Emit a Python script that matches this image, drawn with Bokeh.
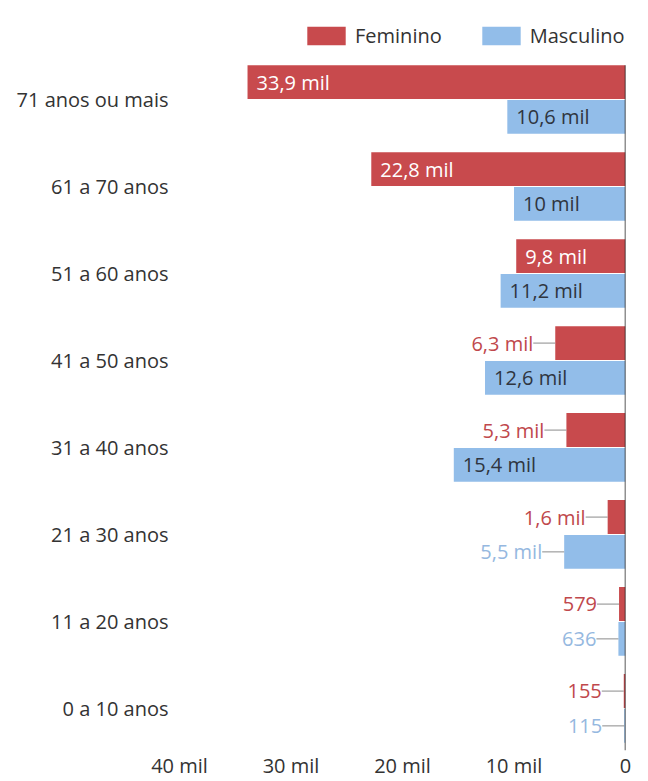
from bokeh.plotting import figure
from bokeh.models import (ColumnDataSource, Range1d, FixedTicker, Legend, LegendItem)
from bokeh.embed import file_html
from bokeh.resources import INLINE

# ---- data ----
categories = ["71 anos ou mais", "61 a 70 anos", "51 a 60 anos", "41 a 50 anos",
              "31 a 40 anos", "21 a 30 anos", "11 a 20 anos", "0 a 10 anos"]
feminino = [33900, 22800, 9800, 6300, 5300, 1600, 579, 155]
masculino = [10600, 10000, 11200, 12600, 15400, 5500, 636, 115]
fem_labels = ["33,9 mil", "22,8 mil", "9,8 mil", "6,3 mil", "5,3 mil", "1,6 mil", "579", "155"]
masc_labels = ["10,6 mil", "10 mil", "11,2 mil", "12,6 mil", "15,4 mil", "5,5 mil", "636", "115"]
x_ticks = [0, 10000, 20000, 30000, 40000]
x_tick_labels = ["0", "10 mil", "20 mil", "30 mil", "40 mil"]

RED = "#c84a4d"
BLUE = "#92bde9"
RED_TXT = "#c0484c"
BLUE_TXT = "#95b8e0"
FONT = "Open Sans"
FS = "20px"

n = len(categories)
ypos = [n - 1 - i for i in range(n)]  # top category highest
OFF = 0.2
H = 0.39
Y0, Y1 = -0.483, 7.9655

p = figure(width=648, height=781, output_backend="svg", toolbar_location=None,
           x_range=Range1d(40270, 0), y_range=Range1d(Y0, Y1),
           min_border_left=176, min_border_right=23, min_border_top=15,
           min_border_bottom=31)
p.outline_line_color = None
p.grid.visible = False
p.background_fill_color = "white"
p.border_fill_color = "white"

fsrc = ColumnDataSource(dict(y=[v + OFF for v in ypos], right=feminino))
msrc = ColumnDataSource(dict(y=[v - OFF for v in ypos], right=masculino))
r_f = p.hbar(y="y", left=0, right="right", height=H, source=fsrc, color=RED, line_color=None)
r_m = p.hbar(y="y", left=0, right="right", height=H, source=msrc, color=BLUE, line_color=None)

# labels
THRESH = 8000
inside = dict(x=[], y=[], t=[], c=[])
outside = dict(x=[], y=[], t=[], c=[])
for vals, labs, sgn, txt_in, txt_out in [(feminino, fem_labels, OFF, "white", RED_TXT),
                                        (masculino, masc_labels, -OFF, "#2f3540", BLUE_TXT)]:
    for v, lab, yy in zip(vals, labs, ypos):
        d = inside if v > THRESH else outside
        d["x"].append(v)
        d["y"].append(yy + sgn)
        d["t"].append(lab)
        d["c"].append(txt_in if v > THRESH else txt_out)

p.text(x="x", y="y", text="t", source=ColumnDataSource(inside), text_color="c",
       text_align="left", text_baseline="middle", x_offset=9, y_offset=0,
       text_font={"value": FONT}, text_font_size=FS)
p.text(x="x", y="y", text="t", source=ColumnDataSource(outside), text_color="c",
       text_align="right", text_baseline="middle", x_offset=-22, y_offset=0,
       text_font={"value": FONT}, text_font_size=FS)
p.ray(x="x", y="y", source=ColumnDataSource(outside), length=22, length_units="screen",
      angle=3.14159265, line_color="#8a8a8a", line_width=1)

# vertical zero line
p.segment(x0=[0], y0=[Y0], x1=[0], y1=[max(ypos) + OFF + H / 2],
          line_color="#222222", line_width=1.5)

# axes
p.xaxis.ticker = FixedTicker(ticks=x_ticks)
p.xaxis.major_label_overrides = {t: l for t, l in zip(x_ticks, x_tick_labels)}
p.xaxis.axis_line_color = None
p.xaxis.major_tick_line_color = None
p.xaxis.minor_tick_line_color = None
p.xaxis.major_tick_in = 0
p.xaxis.major_tick_out = 0
p.xaxis.major_label_standoff = 1
p.xaxis.major_label_text_line_height = 0.1
p.xaxis.major_label_text_font = FONT
p.xaxis.major_label_text_font_size = FS
p.xaxis.major_label_text_color = "#333333"

p.yaxis.ticker = FixedTicker(ticks=ypos)
p.yaxis.major_label_overrides = {y: c for y, c in zip(ypos, categories)}
p.yaxis.axis_line_color = None
p.yaxis.major_tick_line_color = None
p.yaxis.minor_tick_line_color = None
p.yaxis.major_label_standoff = 2
p.yaxis.major_label_text_font = FONT
p.yaxis.major_label_text_font_size = FS
p.yaxis.major_label_text_color = "#333333"

legend = Legend(items=[LegendItem(label="Feminino", renderers=[r_f]),
                       LegendItem(label="Masculino", renderers=[r_m])],
                orientation="horizontal", location=(126, 701),
                glyph_width=48, glyph_height=23, label_standoff=5, spacing=35,
                label_text_font=FONT, label_text_font_size=FS,
                label_text_color="#333333", border_line_color=None,
                background_fill_alpha=0, padding=0, margin=0)
p.add_layout(legend)

open("out.html", "w").write(file_html(p, INLINE))
